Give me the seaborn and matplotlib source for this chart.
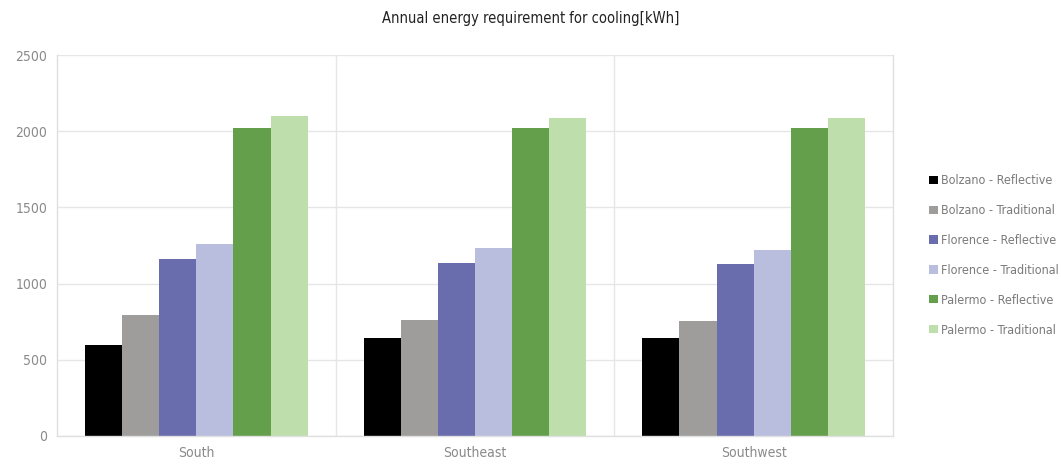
import matplotlib
matplotlib.use("Agg")
import matplotlib.pyplot as plt
import seaborn as sns
import pandas as pd
import numpy as np

# Data
orientations = ["South", "Southeast", "Southwest"]
series = ["Bolzano - Reflective", "Bolzano - Traditional",
          "Florence - Reflective", "Florence - Traditional",
          "Palermo - Reflective", "Palermo - Traditional"]
bolzano_reflective = [597, 643, 643]
bolzano_traditional = [792, 759, 755]
florence_reflective = [1159, 1135, 1131]
florence_traditional = [1262, 1234, 1223]
palermo_reflective = [2019, 2019, 2019]
palermo_traditional = [2098, 2087, 2087]
yticks = [0, 500, 1000, 1500, 2000, 2500]

colors = ["#000000", "#9e9d9b", "#696dad", "#b9bedf", "#64a04c", "#bedeab"]

sns.set_theme(style="white")
plt.rcParams['font.family'] = ['DejaVu Sans']
plt.rcParams['font.stretch'] = 'condensed'

values = [bolzano_reflective, bolzano_traditional, florence_reflective,
          florence_traditional, palermo_reflective, palermo_traditional]
rows = []
for name, vals in zip(series, values):
    for o, v in zip(orientations, vals):
        rows.append({"Orientation": o, "Series": name, "kWh": v})
df = pd.DataFrame(rows)

fig = plt.figure(figsize=(10.61, 4.65), dpi=100)
ax = fig.add_axes([0.0537, 0.0624, 0.7880, 0.8193])

sns.barplot(data=df, x="Orientation", y="kWh", hue="Series", hue_order=series,
            order=orientations, palette=colors, width=0.8, saturation=1,
            edgecolor="none", linewidth=0, ax=ax)

ax.set_ylim(0, 2500)
ax.set_xlim(-0.5, 2.5)
ax.set_yticks(yticks)
ax.set_yticklabels([str(t) for t in yticks])
ax.set_xlabel("")
ax.set_ylabel("")
ax.tick_params(axis="both", length=0, labelsize=10, labelcolor="#8a8a8a", pad=7)
ax.yaxis.grid(True, color="#e6e6e6", linewidth=1)
ax.set_axisbelow(True)
for x in [0.5, 1.5]:
    ax.axvline(x, color="#e6e6e6", linewidth=1, zorder=0)
ax.spines["top"].set_visible(False)
for side in ["left", "right", "bottom"]:
    ax.spines[side].set_color("#e0e0e0")
    ax.spines[side].set_linewidth(1)

fig.text(0.5, 0.96, "Annual energy requirement for cooling[kWh]",
         ha="center", va="center", fontsize=10.5, color="#222222")

handles, labels = ax.get_legend_handles_labels()
ax.legend(handles, labels, loc="center left", bbox_to_anchor=(1.036, 0.474),
          frameon=False, fontsize=9.0, labelcolor="#7a7a7a", borderpad=0,
          handlelength=0.65, handleheight=0.65, handletextpad=0.25,
          labelspacing=1.35)

plt.savefig("out.png", dpi=100)
